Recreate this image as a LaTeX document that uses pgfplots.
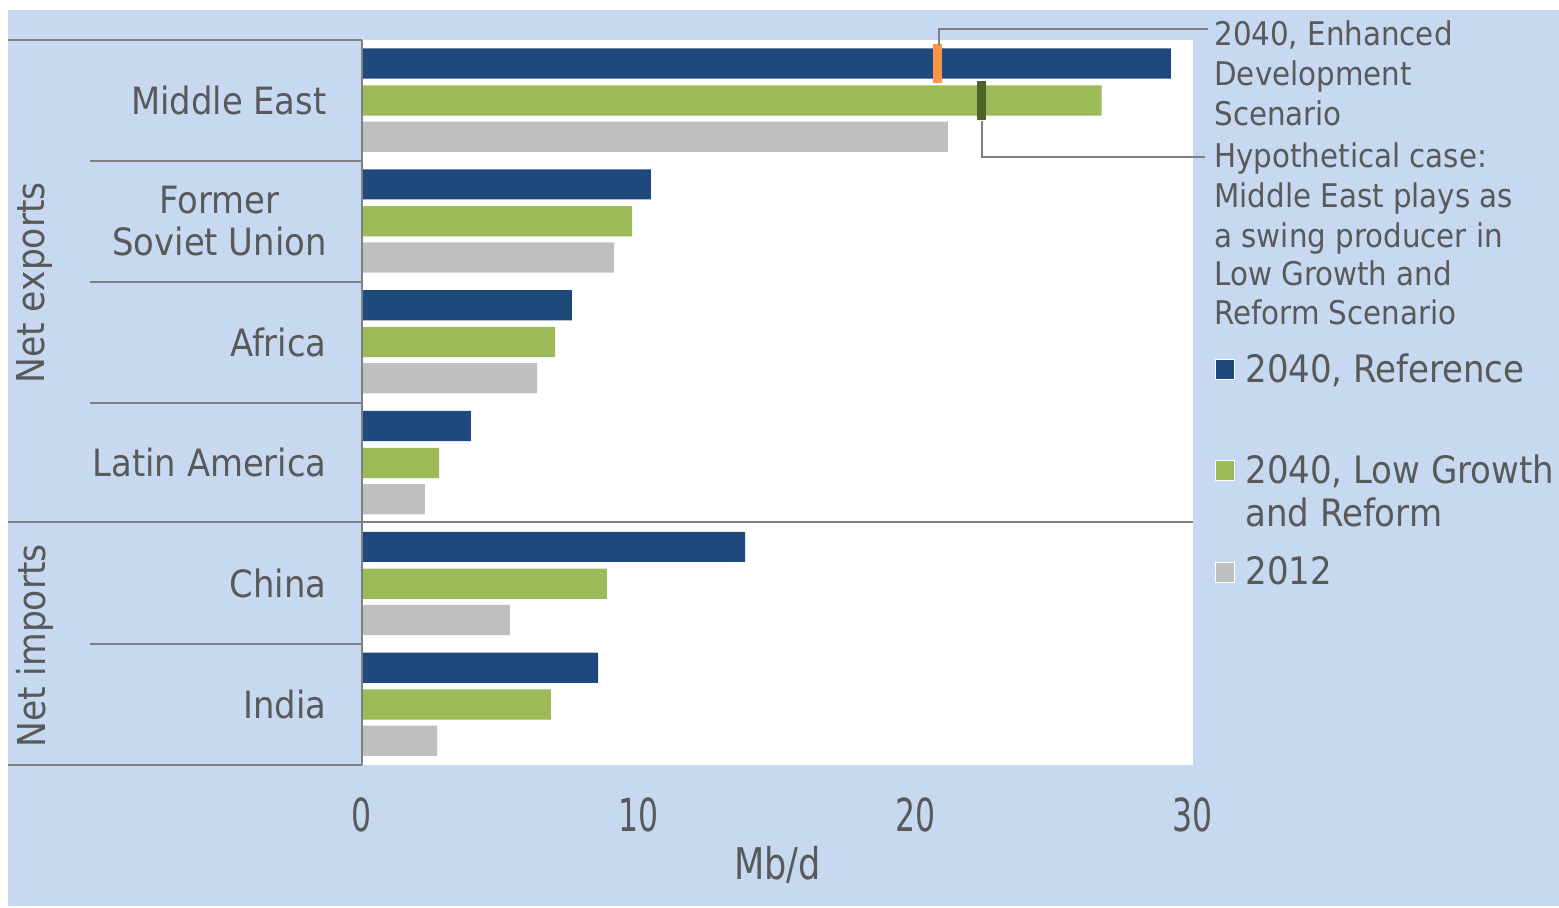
\documentclass[border=0pt]{standalone}
\usepackage{pgfplots}
\pgfplotsset{compat=1.18}
\usepackage{fontspec}
\setmainfont{DejaVu Sans Condensed}
\definecolor{bgblue}{HTML}{C6D9F1}
\definecolor{refblue}{HTML}{1F497D}
\definecolor{lggreen}{HTML}{9BBB59}
\definecolor{greyb}{HTML}{BFBFBF}
\definecolor{orangem}{HTML}{F79646}
\definecolor{darkg}{HTML}{4F6228}
\definecolor{txt}{HTML}{595959}
\definecolor{lin}{HTML}{808080}
\begin{document}
\begin{tikzpicture}
\begin{scope}[shift={(-181pt,382.5pt)}, x=0.5pt, y=-0.5pt]
 \fill[white] (0,0) rectangle (1559,908);
 \fill[bgblue] (8,10) rectangle (1559,906);
\end{scope}
\begin{axis}[at={(0,0)}, anchor=south west, scale only axis,
 width=415.5pt, height=362.5pt,
 xmin=0, xmax=30, ymin=-0.5, ymax=5.5,
 axis background/.style={fill=white},
 axis line style={draw=none},
 major tick length=0pt,
 xtick={0,10,20,30},
 ytick={0,...,5},
 yticklabels={India,China,Latin America,Africa,{Former\\Soviet Union},Middle East},
 yticklabel style={align=center, anchor=east, inner sep=0pt, xshift=-17.5pt, font=\fontsize{18.8}{21}\selectfont, text=txt},
 xticklabel style={anchor=center, inner sep=0pt, yshift=-25pt, font=\fontsize{17.5}{20}\selectfont, yscale=1.3, text=txt},
 /pgf/number format/assume math mode=true,
 xlabel={Mb/d},
 xlabel style={at={(axis description cs:0.5,0)}, anchor=center, inner sep=0pt, yshift=-50pt, font=\fontsize{19.5}{22}\selectfont, yscale=1.12, text=txt},
 xbar, bar width=0.25, bar shift=0pt,
 clip=false,
]
\addplot[fill=refblue, draw=none] coordinates {(29.2,5.305) (10.43,4.305) (7.58,3.305) (3.93,2.305) (13.83,1.305) (8.52,0.305)};
\addplot[fill=lggreen, draw=none] coordinates {(26.7,5) (9.75,4) (6.97,3) (2.78,2) (8.84,1) (6.82,0)};
\addplot[fill=greyb, draw=none] coordinates {(21.15,4.7) (9.1,3.7) (6.32,2.7) (2.27,1.7) (5.34,0.7) (2.71,-0.3)};
\addplot[only marks, mark=|, mark size=9.75pt, mark options={draw=orangem, line width=4.5pt}] coordinates {(20.78,5.302)};
\addplot[only marks, mark=|, mark size=9.75pt, mark options={draw=darkg, line width=4.5pt}] coordinates {(22.36,5.0)};
\end{axis}
\begin{scope}[shift={(-181pt,382.5pt)}, x=0.5pt, y=-0.5pt,
  t/.style={text=txt, inner sep=0pt, text height=0.73em, text depth=0pt, anchor=west}]
 \draw[lin, line width=1pt] (8,40)--(362,40) (90,161)--(362,161) (90,282)--(362,282) (90,403)--(362,403)
   (8,522)--(1193,522) (90,644)--(362,644) (8,765)--(362,765) (362,40)--(362,765);
 \draw[lin, line width=1pt] (939,45)--(939,29)--(1208,29);
 \draw[lin, line width=1pt] (982,121)--(982,157)--(1205,157);
 \node[rotate=90, text=txt, font=\fontsize{19.2}{21}\selectfont] at (35,283) {Net exports};
 \node[rotate=90, text=txt, font=\fontsize{19.2}{21}\selectfont] at (35,646) {Net imports};
 \begin{scope}[every node/.append style={font=\fontsize{16.3}{20}\selectfont}]
 \node[t] at (1214,38) {2040, Enhanced};
 \node[t] at (1214,78) {Development};
 \node[t] at (1214,118) {Scenario};
 \node[t] at (1214,160) {Hypothetical case:};
 \node[t] at (1214,200) {Middle East plays as};
 \node[t] at (1214,240) {a swing producer in};
 \node[t] at (1214,278) {Low Growth and};
 \node[t] at (1214,317) {Reform Scenario};
 \end{scope}
 \fill[refblue, draw=white, line width=0.5pt] (1215,360) rectangle (1234,380);
 \fill[lggreen, draw=white, line width=0.5pt] (1215,461) rectangle (1234,481);
 \fill[greyb, draw=white, line width=0.5pt] (1215,563) rectangle (1234,583);
 \begin{scope}[every node/.append style={font=\fontsize{18.9}{22}\selectfont}]
 \node[t] at (1245,375) {2040, Reference};
 \node[t] at (1245,476) {2040, Low Growth};
 \node[t] at (1245,519) {and Reform};
 \node[t] at (1245,577) {2012};
 \end{scope}
 \pgfresetboundingbox
 \path[use as bounding box] (0,0) rectangle (1559,908);
\end{scope}
\end{tikzpicture}
\end{document}
